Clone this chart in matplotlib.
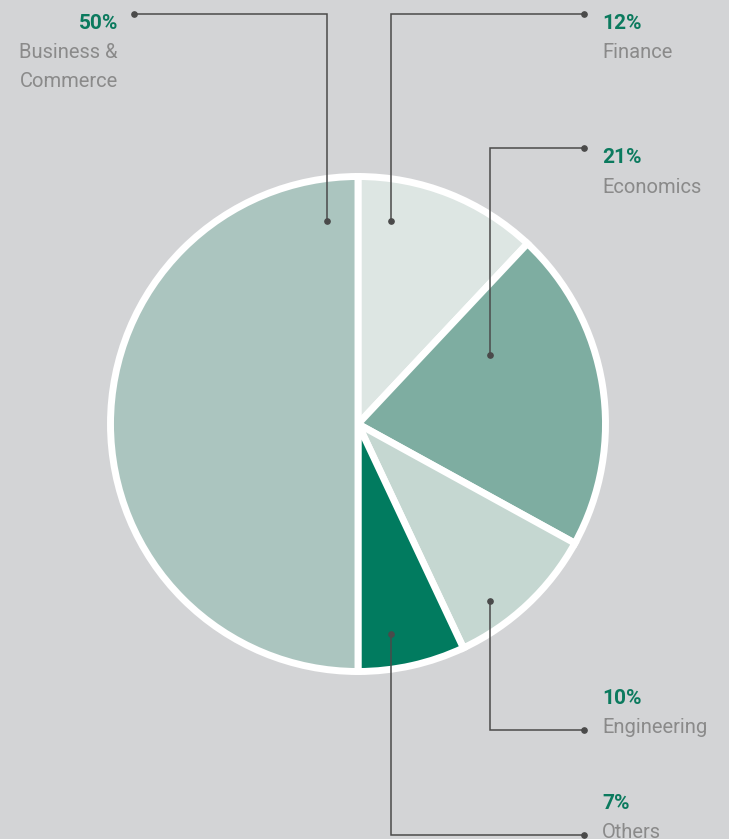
import matplotlib
matplotlib.use("Agg")
import matplotlib.pyplot as plt

categories = ["Finance", "Economics", "Engineering", "Others", "Business &\nCommerce"]
values = [12, 21, 10, 7, 50]
pct_labels = ["12%", "21%", "10%", "7%", "50%"]
colors = ["#dde6e3", "#7eada1", "#c5d7d1", "#017b5f", "#abc5bf"]

W, H = 729, 839
BG = "#d3d4d6"
GREEN = "#0b7a5e"
GRAY = "#8a8a8a"
LINE = "#4a4a4a"

def Y(py):
    return H - py

fig = plt.figure(figsize=(W / 100, H / 100), dpi=100, facecolor=BG)
ax = fig.add_axes([0, 0, 1, 1])
ax.set_facecolor(BG)

cx, cy = 358, 424
ax.pie(values, colors=colors, startangle=90, counterclock=False,
       center=(cx, Y(cy)), radius=247.5,
       wedgeprops=dict(edgecolor="white", linewidth=5.0))
ax.set_xlim(0, W)
ax.set_ylim(0, H)
ax.set_aspect("equal")
ax.axis("off")

# leader lines: (inner anchor, corner, outer end)
leaders = [
    [(391, 221), (391, 14), (584, 14)],   # Finance
    [(490, 355), (490, 148), (584, 148)], # Economics
    [(490, 601), (490, 730), (584, 730)], # Engineering
    [(391, 634), (391, 835), (584, 835)], # Others
    [(327, 221), (327, 14), (134, 14)],   # Business
]
for pts in leaders:
    xs = [p[0] for p in pts]
    ys = [Y(p[1]) for p in pts]
    ax.plot(xs, ys, color=LINE, lw=1.1, solid_joinstyle="miter", zorder=5)
    ax.plot([xs[0], xs[-1]], [ys[0], ys[-1]], "o", color=LINE, ms=3.8, zorder=6)

# text positions (baselines)
text_pos = [
    (602, 29, 58, "left"),
    (602, 163, 193, "left"),
    (602, 704, 733, "left"),
    (602, 809, 838, "left"),
    (118, 29, 58, "right"),
]
for (x, pb, lb, ha), pct, cat in zip(text_pos, pct_labels, categories):
    ax.text(x, Y(pb), pct, ha=ha, va="baseline", fontsize=15,
            fontweight="bold", color=GREEN, family=["Roboto", "DejaVu Sans"])
    lines = cat.split("\n")
    for i, ln in enumerate(lines):
        ax.text(x, Y(lb + 29 * i), ln, ha=ha, va="baseline", fontsize=14.5,
                color=GRAY, family=["Roboto", "DejaVu Sans"])

fig.savefig("out.png", dpi=100, facecolor=BG)
